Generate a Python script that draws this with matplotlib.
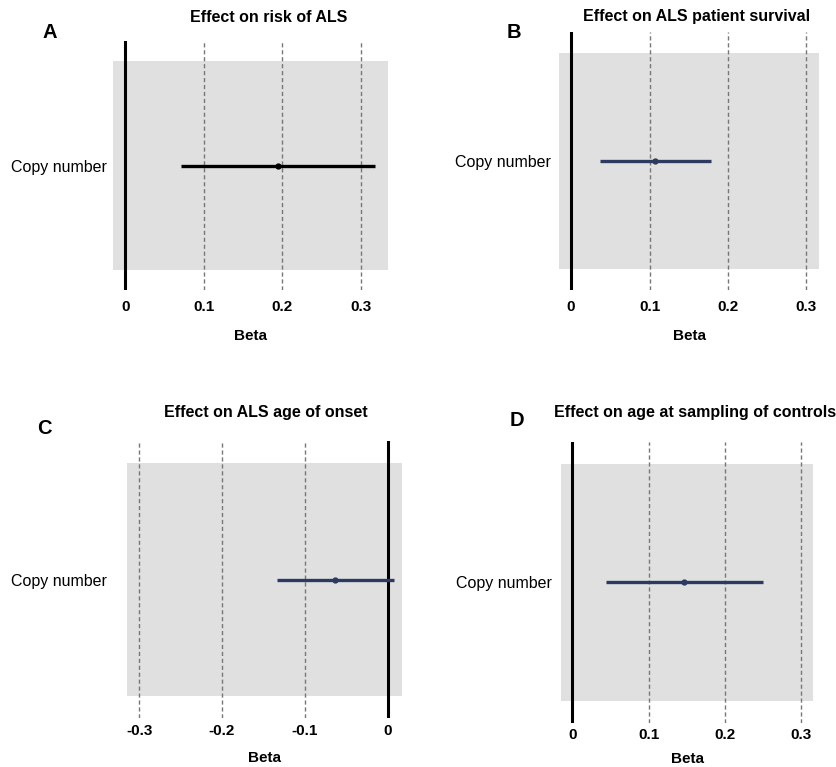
import matplotlib
matplotlib.use("Agg")
from matplotlib import pyplot as plt

plt.rcParams['font.family'] = ['Liberation Sans', 'DejaVu Sans']

# data
letters = ["A", "B", "C", "D"]
titles = ["Effect on risk of ALS", "Effect on ALS patient survival",
          "Effect on ALS age of onset", "Effect on age at sampling of controls"]
row_label = "Copy number"
beta = [0.195, 0.107, -0.063, 0.147]
ci_low = [0.071, 0.037, -0.134, 0.044]
ci_high = [0.318, 0.178, 0.008, 0.250]
ticks_pos = [0, 0.1, 0.2, 0.3]
ticks_neg = [-0.3, -0.2, -0.1, 0]
tick_labels_pos = ["0", "0.1", "0.2", "0.3"]
tick_labels_neg = ["-0.3", "-0.2", "-0.1", "0"]
colors = ["black", "#2c3a60", "#2c3a60", "#2c3a60"]

# layout (figure fractions) and per panel settings
boxes = [[0.1346, 0.6219, 0.3290, 0.3246],
         [0.6679, 0.6219, 0.3106, 0.3364],
         [0.1514, 0.0639, 0.3286, 0.3611],
         [0.6703, 0.0574, 0.3014, 0.3667]]
xlims = [(-0.016, 0.335), (-0.0153, 0.316), (-0.315, 0.017), (-0.0148, 0.316)]
ylab_pad = [4, 6, 14, 6.5]
title_pos = [(268.5, 17), (697, 17), (265.5, 413), (695, 413)]
letter_pos = [(49.5, 33), (513.5, 33), (44, 428), (517, 421)]
tick_pad = [7, 7, 4, 3.5]
xlab_pad = [11, 11, 10, 7]

W, H = 837, 767
fig = plt.figure(figsize=(W / 100, H / 100), dpi=100)

for i in range(4):
    ax = fig.add_axes(boxes[i])
    ax.set_facecolor("none")
    for s in ax.spines.values():
        s.set_visible(False)
    ax.axhspan(-1, 1, color="#e0e0e0", zorder=0, lw=0)
    if i == 2:
        ticks, tlabels = ticks_neg, tick_labels_neg
    else:
        ticks, tlabels = ticks_pos, tick_labels_pos
    for t in ticks:
        if t == 0:
            ax.axvline(0, color="black", lw=2.2, zorder=2)
        else:
            ax.axvline(t, color="#777777", lw=1.0, ls=(0, (3, 2)), zorder=1)
    ax.plot([ci_low[i], ci_high[i]], [0, 0], color=colors[i], lw=2.4,
            solid_capstyle="butt", zorder=3)
    ax.plot([beta[i]], [0], "o", color=colors[i], ms=3.5, zorder=4)
    ax.set_xlim(*xlims[i])
    ax.set_ylim(-1.19, 1.19)
    ax.set_xticks(ticks)
    ax.set_xticklabels(tlabels, fontsize=11, fontweight="bold")
    ax.set_yticks([0])
    ax.set_yticklabels([row_label], fontsize=11.5)
    ax.tick_params(axis="x", length=0, pad=tick_pad[i])
    ax.tick_params(axis="y", length=0, pad=ylab_pad[i])
    ax.set_xlabel("Beta", fontsize=11, fontweight="bold", labelpad=xlab_pad[i])
    tx, ty = title_pos[i]
    fig.text(tx / W, 1 - ty / H, titles[i], ha="center", va="center",
             fontsize=11.5, fontweight="bold")
    lx, ly = letter_pos[i]
    fig.text(lx / W, 1 - ly / H, letters[i], ha="center", va="center",
             fontsize=14.5, fontweight="bold")

fig.savefig("out.png", dpi=100)
